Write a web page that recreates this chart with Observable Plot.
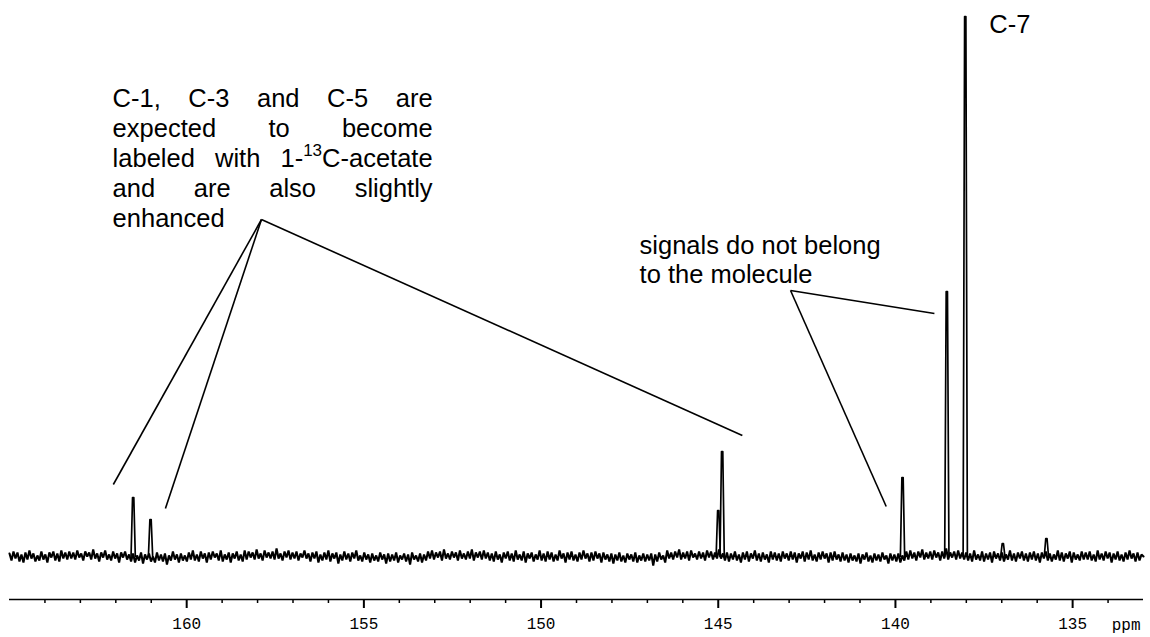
<!DOCTYPE html>
<html>
<head>
<meta charset="utf-8">
<script src="https://cdn.jsdelivr.net/npm/d3@7"></script>
<script src="https://cdn.jsdelivr.net/npm/@observablehq/plot@0.6"></script>
<style>
  html, body { margin: 0; padding: 0; background: #fff; }
  #chart svg { display: block; }
</style>
</head>
<body>
<div id="chart"></div>
<script>
// ---------- data ----------
const ppmStart = 165;          // left edge of the spectrum (ppm)
const ppmEnd = 133;            // right edge of the spectrum (ppm)
// baseline noise, sampled evenly from ppmStart to ppmEnd (intensity units)
const noise = [
  3,-4,5,-2,4,-5,2,-6,4,-3,6,-2,3,-5,1,-4,5,-3,2,-6,4,-1,5,-4,3,-5,6,-2,4,-3,
  5,-2,4,-3,6,-1,3,-4,5,0,4,-3,7,-2,3,-5,4,-1,6,-3,2,-4,5,-2,3,-6,4,-1,5,-3,
  2,-5,3,-6,1,-4,4,-7,2,-3,3,-5,0,-6,4,-4,2,-5,3,-8,1,-4,5,-3,2,-6,3,-4,1,-5,
  4,-3,6,-4,2,-5,5,-2,3,-6,4,-3,5,-1,3,-4,6,-5,2,-3,4,-6,3,-2,5,-4,2,-5,6,-3,
  5,-1,4,-3,7,-2,3,-4,6,-1,4,-2,5,-3,8,-2,3,-4,5,-1,6,-3,4,-2,5,-4,3,-1,6,-2,
  3,-5,4,-2,5,-6,2,-4,4,-3,6,-5,3,-2,4,-7,2,-4,5,-3,3,-5,4,-2,6,-4,1,-5,4,-3,
  2,-6,3,-4,1,-5,4,-3,2,-7,3,-5,2,-4,4,-6,1,-3,3,-5,2,-8,4,-3,1,-5,3,-6,2,-4,
  5,-2,6,-3,4,-1,5,-4,7,-2,3,-3,5,-1,4,-4,6,-2,3,-3,5,-2,7,-4,4,-1,5,-3,6,-2,
  4,-4,3,-5,5,-3,2,-6,4,-2,5,-4,3,-5,6,-3,2,-4,5,-6,3,-2,4,-5,2,-3,6,-4,3,-5,
  5,-3,4,-5,2,-4,6,-2,3,-6,4,-3,5,-4,2,-5,4,-3,6,-2,3,-5,4,-4,5,-2,3,-6,4,-3,
  2,-5,3,-7,2,-4,4,-5,1,-6,3,-3,2,-5,4,-6,1,-4,3,-5,2,-4,3,-9,2,-5,4,-3,1,-6,
  6,-2,4,-3,5,-1,7,-3,4,-2,5,-4,6,-1,3,-3,5,-2,4,-4,6,-1,5,-3,4,-2,7,-2,3,-4,
  4,-5,3,-3,5,-4,2,-6,4,-3,5,-5,3,-2,6,-4,3,-5,4,-3,2,-6,5,-3,4,-4,3,-5,5,-2,
  3,-4,5,-3,4,-6,3,-2,5,-5,4,-3,6,-4,2,-5,4,-3,5,-2,3,-6,4,-4,5,-3,2,-5,4,-4,
  2,-6,3,-4,1,-5,3,-7,2,-3,4,-5,1,-6,3,-4,2,-5,4,-3,1,-7,3,-4,2,-5,3,-6,1,-4,
  5,-3,6,-2,4,-4,5,-1,7,-3,4,-2,5,-3,6,-1,4,-4,5,-2,8,-3,4,-1,5,-3,6,-2,4,-3,
  4,-4,3,-5,6,-3,2,-4,5,-5,3,-3,4,-6,5,-2,3,-4,4,-5,2,-3,6,-4,3,-5,4,-2,5,-4,
  3,-5,4,-3,5,-4,3,-6,4,-2,5,-4,3,-5,2,-3,6,-4,4,-5,3,-2,5,-6,4,-3,2,-4,5,-3,
  4,-3,5,-4,2,-5,6,-3,3,-4,5,-2,4,-6,3,-3,5,-4,2,-5,4,-3,6,-2,3,-5,4,-4,2,0
];
// resolved signals
const peakPpm    = [161.51, 161.02, 145.00, 144.89, 139.80, 138.55, 138.03, 136.97, 135.74];
const peakHeight = [59,     37,     46,     105,    79,     265,    540,    13,     18];

// axis
const majorTicks = [160, 155, 150, 145, 140, 135];
const minorTicks = [164,163,162,161,159,158,157,156,154,153,152,151,149,148,147,146,144,143,142,141,139,138,137,136,134];
const axisUnit = "ppm";

// annotations (ppm, intensity)
const c7Label = "C-7";
const c7Pos = [137.35, 524];
// each word is a list of [text, isSuperscript] pieces
const blockLines = [
  [[["C-1,", 0]], [["C-3", 0]], [["and", 0]], [["C-5", 0]], [["are", 0]]],
  [[["expected", 0]], [["to", 0]], [["become", 0]]],
  [[["labeled", 0]], [["with", 0]], [["1-", 0], ["13", 1], ["C-acetate", 0]]],
  [[["and", 0]], [["are", 0]], [["also", 0]], [["slightly", 0]]],
  [[["enhanced", 0]]]
];
const blockJustified = [true, true, true, true, false];
const blockLeftPpm = 162.09, blockRightPpm = 153.06;
const blockBaselines = [450, 420, 390, 360, 330];
const supRaise = 11;
const signalLines = ["signals do not belong", "to the molecule"];
const signalLeftPpm = 147.22;
const signalBaselines = [303, 274];
const leaderX1 = [157.89, 157.89, 157.89, 142.96, 142.96];
const leaderY1 = [337,    337,    337,    266,    266];
const leaderX2 = [162.07, 160.60, 144.32, 138.90, 140.26];
const leaderY2 = [72,     48,     121,    243,    50];

// ---------- layout ----------
const W = 1150, H = 637;
const mL = 9, mR = 7, mT = 0, mB = 38;
const yDomain = [-43, 556];
const FS = 25.5, SUP_FS = 17;
const sansFont = "Liberation Sans";
const monoFont = "Liberation Mono";

const step = (ppmStart - ppmEnd) / (noise.length - 1);
const spectrum = noise.map((v, i) => ({ppm: ppmStart - i * step, intensity: v}));

const hw = 0.06, tw = 0.018;
const peakShape = peakPpm.flatMap((p, i) => {
  const h = peakHeight[i];
  return [
    {peak: i, ppm: p + hw, intensity: 0},
    {peak: i, ppm: p + tw, intensity: h},
    {peak: i, ppm: p - tw, intensity: h},
    {peak: i, ppm: p - hw, intensity: 0}
  ];
});

const leaders = leaderX1.map((x1, i) => ({x1, y1: leaderY1[i], x2: leaderX2[i], y2: leaderY2[i]}));

// justified text block
const xs = Plot.scale({x: {domain: [ppmStart, ppmEnd], range: [mL, W - mR]}});
const ctxMain = document.createElement("canvas").getContext("2d");
ctxMain.font = `${FS}px "${sansFont}"`;
const ctxSup = document.createElement("canvas").getContext("2d");
ctxSup.font = `${SUP_FS}px "${sansFont}"`;
const pieceWidth = ([t, sup]) => (sup ? ctxSup : ctxMain).measureText(t).width;
const mainWords = [], supWords = [];
blockLines.forEach((line, li) => {
  const left = xs.apply(blockLeftPpm), right = xs.apply(blockRightPpm);
  const widths = line.map(word => d3.sum(word, pieceWidth));
  const total = d3.sum(widths);
  const gap = blockJustified[li] && line.length > 1
    ? (right - left - total) / (line.length - 1)
    : ctxMain.measureText(" ").width;
  let x = left;
  line.forEach((word, i) => {
    let px = x;
    word.forEach(piece => {
      const [t, sup] = piece;
      if (sup) supWords.push({word: t, ppm: xs.invert(px), y: blockBaselines[li] + supRaise});
      else mainWords.push({word: t, ppm: xs.invert(px), y: blockBaselines[li]});
      px += pieceWidth(piece);
    });
    x += widths[i] + gap;
  });
});
const signalText = signalLines.map((t, i) => ({t, ppm: signalLeftPpm, y: signalBaselines[i]}));

const chart = Plot.plot({
  width: W, height: H,
  marginTop: mT, marginBottom: mB, marginLeft: mL, marginRight: mR,
  x: {domain: [ppmStart, ppmEnd]},
  y: {domain: yDomain, axis: null},
  style: {fontFamily: monoFont, fontSize: "16px", color: "black", background: "white"},
  marks: [
    Plot.ruleY([yDomain[0]], {stroke: "black", strokeWidth: 1.5}),
    Plot.axisX({ticks: minorTicks, tickSize: 4, tickFormat: () => "", strokeWidth: 1.5}),
    Plot.axisX({ticks: majorTicks, tickSize: 9, tickPadding: 9.5, strokeWidth: 2,
      fontSize: 16, fontFamily: monoFont, tickFormat: d => String(d)}),
    Plot.text([axisUnit], {frameAnchor: "bottom-right", dx: -3, dy: 30.5, textAnchor: "end",
      lineAnchor: "bottom", fontFamily: monoFont, fontSize: 16, fill: "black"}),
    Plot.line(spectrum, {x: "ppm", y: "intensity", stroke: "black", strokeWidth: 2.1, strokeLinejoin: "miter"}),
    Plot.line(peakShape, {x: "ppm", y: "intensity", z: "peak", stroke: "black", strokeWidth: 1.7}),
    Plot.link(leaders, {x1: "x1", y1: "y1", x2: "x2", y2: "y2", stroke: "black", strokeWidth: 1.6}),
    Plot.text([c7Label], {x: () => c7Pos[0], y: () => c7Pos[1], textAnchor: "start", lineAnchor: "bottom",
      fontFamily: sansFont, fontSize: FS, fill: "black"}),
    Plot.text(mainWords, {x: "ppm", y: "y", text: "word", textAnchor: "start", lineAnchor: "bottom",
      fontFamily: sansFont, fontSize: FS, fill: "black"}),
    Plot.text(supWords, {x: "ppm", y: "y", text: "word", textAnchor: "start", lineAnchor: "bottom",
      fontFamily: sansFont, fontSize: SUP_FS, fill: "black"}),
    Plot.text(signalText, {x: "ppm", y: "y", text: "t", textAnchor: "start", lineAnchor: "bottom",
      fontFamily: sansFont, fontSize: FS, fill: "black"})
  ]
});
document.getElementById("chart").appendChild(chart);
</script>
</body>
</html>
